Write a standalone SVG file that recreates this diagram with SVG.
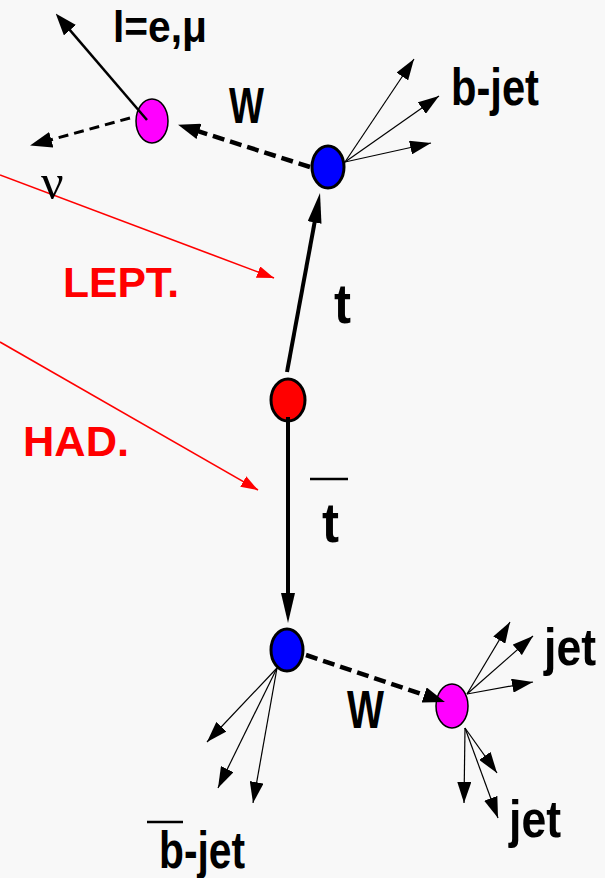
<svg xmlns="http://www.w3.org/2000/svg" width="605" height="878" viewBox="0 0 605 878">
  <style>
    .lbl { font-family: "Liberation Sans", Arial, sans-serif; font-weight: bold; fill: #000; }
    .red { font-family: "Liberation Sans", Arial, sans-serif; font-weight: bold; fill: #ff0000; }
    .greek { font-family: "Liberation Serif", "DejaVu Serif", serif; fill: #000; }
    .thick { stroke: #000; stroke-width: 4; fill: none; }
    .lep { stroke: #000; stroke-width: 2.5; fill: none; }
    .thin { stroke: #000; stroke-width: 1.2; fill: none; marker-end: url(#headThin); }
    .dashW { stroke: #000; stroke-width: 4.5; fill: none; stroke-dasharray: 12 6; }
    .dashNu { stroke: #000; stroke-width: 3; fill: none; stroke-dasharray: 10 6; }
    .redline { stroke: #ff0000; stroke-width: 1.6; fill: none; marker-end: url(#headRed); }
    .bar { stroke: #000; stroke-width: 2.5; }
  </style>
  <defs>
    <marker id="headBig" markerUnits="userSpaceOnUse" viewBox="0 0 30 14" markerWidth="30" markerHeight="14" refX="10" refY="7" orient="auto">
      <path d="M0,0 L30,7 L0,14 z" fill="#000"/>
    </marker>
    <marker id="headMed" markerUnits="userSpaceOnUse" viewBox="0 0 22 16" markerWidth="22" markerHeight="16" refX="6" refY="8" orient="auto">
      <path d="M0,0 L22,8 L0,16 z" fill="#000"/>
    </marker>
    <marker id="headThin" markerUnits="userSpaceOnUse" viewBox="0 0 21 14" markerWidth="21" markerHeight="14" refX="21" refY="7" orient="auto">
      <path d="M0,0 L21,7 L0,14 z" fill="#000"/>
    </marker>
    <marker id="headRed" markerUnits="userSpaceOnUse" viewBox="0 0 17 12" markerWidth="17" markerHeight="12" refX="17" refY="6" orient="auto">
      <path d="M0,0 L17,6 L0,12 z" fill="#ff0000"/>
    </marker>
  </defs>
  <rect x="0" y="0" width="605" height="878" fill="#f8f8f8"/>

  <g id="node-lep-vertex">
    <ellipse cx="152" cy="121" rx="16" ry="22" fill="#ff00ff" stroke="#000" stroke-width="1.5"/>
  </g>
  <g id="node-b-top">
    <ellipse cx="328" cy="167" rx="16" ry="21" fill="#0000ff" stroke="#000" stroke-width="3"/>
  </g>
  <g id="node-ttbar">
    <ellipse cx="288" cy="400" rx="17" ry="21" fill="#ff0000" stroke="#000" stroke-width="3"/>
  </g>
  <g id="node-b-bottom">
    <ellipse cx="287" cy="650" rx="16" ry="21" fill="#0000ff" stroke="#000" stroke-width="3"/>
  </g>
  <g id="node-had-vertex">
    <ellipse cx="452" cy="706" rx="16" ry="22" fill="#ff00ff" stroke="#000" stroke-width="1.5"/>
  </g>

  <g id="connectors">
    <line class="thick" x1="287" y1="372" x2="316.4" y2="212.7" marker-end="url(#headBig)"/>
    <line class="thick" x1="288" y1="417" x2="288" y2="603" marker-end="url(#headBig)"/>
    <line class="lep" x1="147" y1="120" x2="66.1" y2="25.6" marker-end="url(#headMed)"/>
    <line class="dashNu" x1="130" y1="118" x2="45.5" y2="141.3" marker-end="url(#headMed)"/>
    <line class="dashW" x1="310" y1="167" x2="193.3" y2="129.6" marker-end="url(#headMed)"/>
    <line class="dashW" x1="306" y1="655" x2="429.8" y2="696.9" marker-end="url(#headMed)"/>
    <line class="thin" x1="345" y1="162" x2="414" y2="59"/>
    <line class="thin" x1="345" y1="162" x2="439" y2="96"/>
    <line class="thin" x1="345" y1="162" x2="431" y2="143"/>
    <line class="thin" x1="467" y1="694" x2="510" y2="622"/>
    <line class="thin" x1="467" y1="694" x2="533" y2="636"/>
    <line class="thin" x1="467" y1="694" x2="533" y2="682"/>
    <line class="thin" x1="465" y1="728" x2="464" y2="803"/>
    <line class="thin" x1="465" y1="728" x2="497" y2="773"/>
    <line class="thin" x1="465" y1="728" x2="498" y2="818"/>
    <line class="thin" x1="277" y1="668" x2="207" y2="742"/>
    <line class="thin" x1="277" y1="668" x2="218" y2="788"/>
    <line class="thin" x1="277" y1="668" x2="253" y2="803"/>
    <line class="redline" x1="0" y1="175" x2="274" y2="278"/>
    <line class="redline" x1="0" y1="342" x2="258" y2="490"/>
  </g>

  <g id="labels">
    <text class="lbl" x="113" y="42" font-size="45" textLength="94" lengthAdjust="spacingAndGlyphs">l=e,μ</text>
    <text class="lbl" x="229" y="123" font-size="50" textLength="35" lengthAdjust="spacingAndGlyphs">W</text>
    <text class="lbl" x="451" y="105" font-size="52" textLength="88" lengthAdjust="spacingAndGlyphs">b-jet</text>
    <text class="greek" x="41" y="199" font-size="50">ν</text>
    <text class="red" x="63" y="297" font-size="42" textLength="116" lengthAdjust="spacingAndGlyphs">LEPT.</text>
    <text class="red" x="23" y="456" font-size="42" textLength="106" lengthAdjust="spacingAndGlyphs">HAD.</text>
    <text class="lbl" x="334" y="323" font-size="56" textLength="17" lengthAdjust="spacingAndGlyphs">t</text>
    <line class="bar" x1="310" y1="479" x2="348" y2="479"/>
    <text class="lbl" x="322" y="542" font-size="56" textLength="17" lengthAdjust="spacingAndGlyphs">t</text>
    <text class="lbl" x="347" y="728" font-size="53" textLength="37" lengthAdjust="spacingAndGlyphs">W</text>
    <text class="lbl" x="544" y="665" font-size="52" textLength="52" lengthAdjust="spacingAndGlyphs">jet</text>
    <text class="lbl" x="509" y="837" font-size="52" textLength="52" lengthAdjust="spacingAndGlyphs">jet</text>
    <line class="bar" x1="147" y1="822" x2="183" y2="822"/>
    <text class="lbl" x="159" y="868" font-size="52" textLength="86" lengthAdjust="spacingAndGlyphs">b-jet</text>
  </g>
</svg>
